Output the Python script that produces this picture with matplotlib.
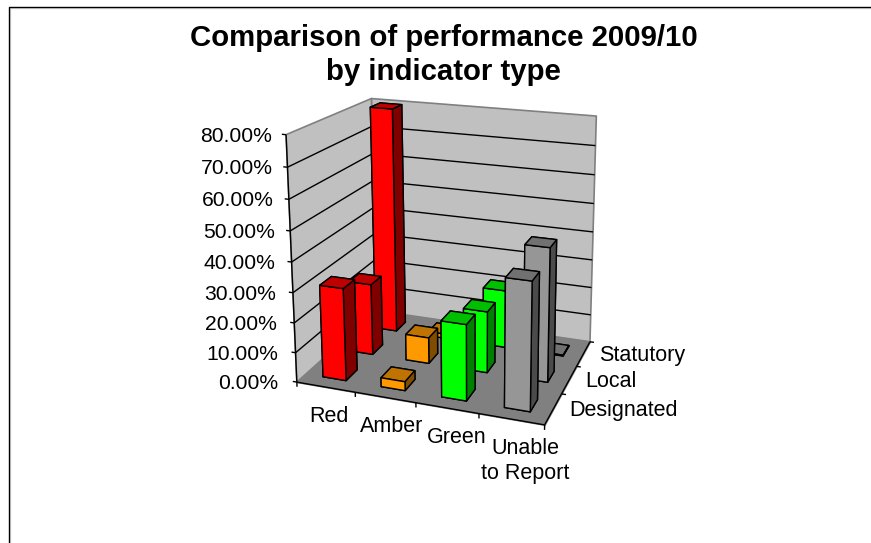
import numpy as np
import matplotlib
matplotlib.use("Agg")
import matplotlib.pyplot as plt
from matplotlib.lines import Line2D
from mpl_toolkits.mplot3d.art3d import Poly3DCollection, Line3DCollection

plt.rcParams['font.family'] = ['Liberation Sans', 'DejaVu Sans']

# ---- data
categories = ["Red", "Amber", "Green", "Unable\nto Report"]
series = ["Designated", "Local", "Statutory"]
designated = [31.0, 3.0, 25.0, 41.5]
local = [24.8, 9.0, 21.0, 45.0]
statutory = [80.0, 1.5, 20.5, 0.3]
z_ticks = [0, 10, 20, 30, 40, 50, 60, 70, 80]
title = "Comparison of performance 2009/10\nby indicator type"

# ---- face colours per category: front, top, right
front = ["#FF0000", "#FF9900", "#00FF00", "#969696"]
top = ["#BF0000", "#BF7300", "#00BF00", "#717171"]
right = ["#800000", "#804D00", "#008000", "#4B4B4B"]

W, H = 871, 543
fig = plt.figure(figsize=(W / 100, H / 100), dpi=100, facecolor="white")

# ---- camera calibrated from the box corners of the plot (world -> pixels)
nx, ny, nz = len(categories), len(series), z_ticks[-1]
box_world = np.array([[0, 0, 0], [nx, 0, 0], [nx, ny, 0], [0, ny, 0],
                      [0, 0, nz], [0, ny, nz], [nx, ny, nz]], float)
box_px = np.array([[295.3, 381.7], [545, 425], [589.3, 341.7], [378, 311],
                   [287.3, 135], [370, 98.3], [596.7, 116]])
A = []
for (X, Y, Z), (u, v) in zip(box_world, box_px):
    A.append([X, Y, Z, 1, 0, 0, 0, 0, -u * X, -u * Y, -u * Z, -u])
    A.append([0, 0, 0, 0, X, Y, Z, 1, -v * X, -v * Y, -v * Z, -v])
A = np.array(A)
scale = np.array([1 / 4, 1 / 3, 1 / 80, 1])
As = A * np.r_[scale, scale, scale]
P = np.linalg.svd(As)[2][-1].reshape(3, 4) * scale
P = P / (P[2] @ np.array([nx / 2, ny / 2, nz / 2, 1]))
depth = np.array([-0.5, 1.0, -0.03, 5.0])
M = np.vstack([P[0], P[1], depth, P[2]])


def project(x, y, z):
    h = P @ np.array([x, y, z, 1.0])
    return h[0] / h[2], h[1] / h[2]


# square axes whose 2D view coordinates are the figure's pixels
ax = fig.add_axes([0, (H - W) / 2 / H, 1, W / H], projection="3d", computed_zorder=False)
ax.set_axis_off()
ax.patch.set_visible(False)
ax.viewLim.intervalx = (0, W)
ax.viewLim.intervaly = ((W + H) / 2, (H - W) / 2)
ax.get_proj = lambda: M

# ---- walls and floor
left_wall = [(0, 0, 0), (0, ny, 0), (0, ny, nz), (0, 0, nz)]
back_wall = [(0, ny, 0), (nx, ny, 0), (nx, ny, nz), (0, ny, nz)]
floor = [(0, 0, 0), (nx, 0, 0), (nx, ny, 0), (0, ny, 0)]
ax.add_collection3d(Poly3DCollection([left_wall, back_wall], facecolors="#C0C0C0",
                                     edgecolors="#808080", linewidths=1.2, zorder=1))
ax.add_collection3d(Poly3DCollection([floor], facecolors="#808080",
                                     edgecolors="#808080", linewidths=1, zorder=2))
# gridlines, axes and ticks
grid = []
for z in z_ticks[1:-1]:
    grid.append([(0, 0, z), (0, ny, z)])
    grid.append([(0, ny, z), (nx, ny, z)])
ax.add_collection3d(Line3DCollection(grid, colors="black", linewidths=1.0, zorder=3))
axes_lines = [[(0, 0, 0), (0, 0, nz)], [(0, 0, 0), (nx, 0, 0)], [(nx, 0, 0), (nx, ny, 0)]]
for z in z_ticks:
    axes_lines.append([(0, 0, z), (-0.07, 0, z)])
for i in range(nx + 1):
    axes_lines.append([(i, 0, 0), (i, 0, -1.6)])
for j in range(1, ny + 1):
    axes_lines.append([(nx, j, 0), (nx + 0.07, j, 0)])
ax.add_collection3d(Line3DCollection(axes_lines, colors="black", linewidths=1.0, zorder=4))

# ---- bars, painted from back to front
bar_w = 0.4
values = [designated, local, statutory]
order = 10
for j in range(ny - 1, -1, -1):
    for i in range(nx):
        h = values[j][i]
        faces = [front[i], top[i], front[i], front[i], right[i], right[i]]
        ax.bar3d(i + 0.5 - bar_w / 2, j + 0.5 - bar_w / 2, 0, bar_w, bar_w, h,
                 color=faces, shade=False, edgecolor="black", linewidth=1.0, zorder=order)
        order += 1


# ---- text
def label(px, py, s, fs=15.5, **kw):
    fig.text(px / W, 1 - py / H, s, fontsize=fs, **kw)


fig.text(443.5 / W, 1 - 55 / H, title, ha="center", va="center", fontsize=21.2,
         fontweight="bold", linespacing=1.3)
for z in z_ticks:
    px, py = project(0, 0, z)
    label(273 + 0.6 * (px - 287.3), py + 1.5, f"{z:.2f}%", fs=15.2, ha="right", va="center")
for i, c in enumerate(categories):
    px, py = project(i + 0.5, 0, 0)
    label(px + 3 + 3.5 * i, py + 18.5, c, ha="center", va="top", linespacing=1.25)
for j, s in enumerate(series):
    px, py = project(nx, j + 0.5, 0)
    label(px + 16, py + 2, s, ha="left", va="center")

# ---- outer frame
fig.add_artist(Line2D([9.5 / W, 9.5 / W, 1], [0, 1 - 7.5 / H, 1 - 7.5 / H], color="#DDDDDD", lw=1.0))
fig.add_artist(Line2D([8.5 / W, 8.5 / W, 1], [0, 1 - 6.5 / H, 1 - 6.5 / H], color="black", lw=1.0))

fig.savefig("out.png", dpi=100)
